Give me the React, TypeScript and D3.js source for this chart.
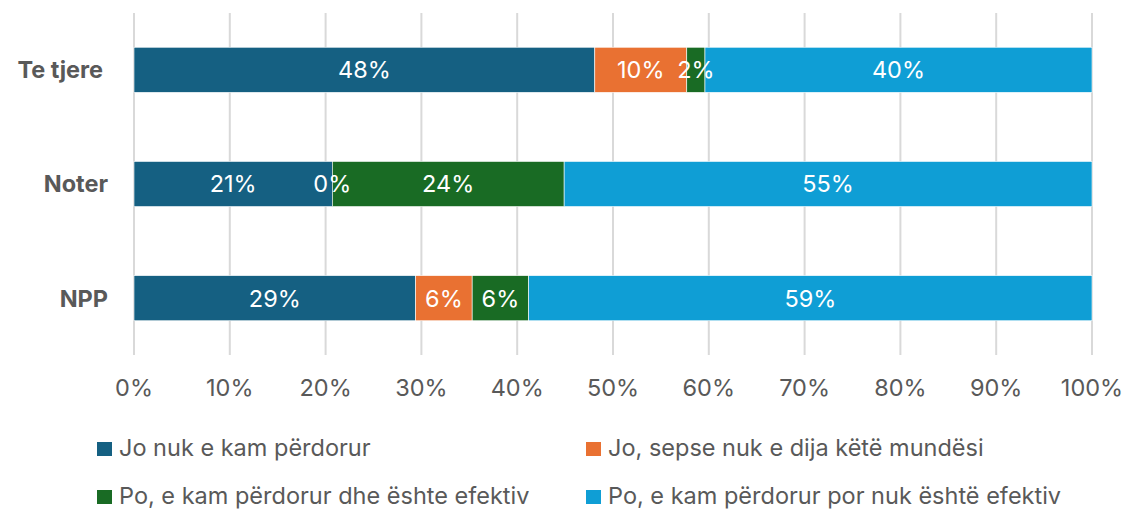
import React from "react";
import * as d3 from "d3";

const categories = ["Te tjere", "Noter", "NPP"];
const seriesNames = [
  "Jo nuk e kam përdorur",
  "Jo, sepse nuk e dija këtë mundësi",
  "Po, e kam përdorur dhe ështe efektiv",
  "Po, e kam përdorur por nuk është efektiv",
];
const seriesColors = ["#156082", "#E97132", "#196B24", "#0F9ED5"];
const joNuk = [48.1, 20.7, 29.4];
const joSepse = [9.6, 0, 5.9];
const poEfektiv = [1.9, 24.2, 5.9];
const poJoEfektiv = [40.4, 55.1, 58.8];
const xTicks = [0, 10, 20, 30, 40, 50, 60, 70, 80, 90, 100];

const W = 1126;
const H = 509;
const FONT = "Inter, 'Open Sans', sans-serif";
const FS = 23.5;

export default function App() {
  const series = [joNuk, joSepse, poEfektiv, poJoEfektiv];
  const x = d3.scaleLinear().domain([0, 100]).range([134, 1092]);
  const y = d3.scaleBand().domain(categories).range([13, 355]).paddingInner(0.605).paddingOuter(0.3);
  const stackData = categories.map((c, i) => {
    const o: any = { cat: c };
    seriesNames.forEach((s, j) => (o[s] = series[j][i]));
    return o;
  });
  const stacked = d3.stack<any>().keys(seriesNames)(stackData);

  return (
    <svg width={W} height={H} style={{ position: "absolute", left: 0, top: 0, background: "#fff" }}>
      {xTicks.map((t) => (
        <g key={t}>
          <line x1={x(t)} x2={x(t)} y1={13} y2={355} stroke="#D9D9D9" strokeWidth={2} />
          <text x={x(t)} y={388} dy="0.36em" textAnchor="middle" fontFamily={FONT} fontSize={FS} fill="#595959">
            {t}%
          </text>
        </g>
      ))}
      {stacked.map((layer, j) => (
        <g key={j}>
          {layer.map((d, i) => {
            const cat = categories[i];
            const x0 = x(d[0]);
            const x1 = x(d[1]);
            const yy = y(cat)!;
            return (
              <rect key={i} x={x0} y={yy} width={Math.max(0, x1 - x0)} height={y.bandwidth()} fill={seriesColors[j]} stroke="#fff" strokeWidth={0.6} />
            );
          })}
        </g>
      ))}
      {stacked.map((layer, j) => (
        <g key={"l" + j}>
          {layer.map((d, i) => {
            const cat = categories[i];
            const cx = (x(d[0]) + x(d[1])) / 2;
            const yy = y(cat)! + y.bandwidth() / 2;
            return (
              <text key={i} x={cx} y={yy} dy="0.36em" textAnchor="middle" fontFamily={FONT} fontSize={FS} fill="#fff">
                {Math.round(d[1] - d[0])}%
              </text>
            );
          })}
        </g>
      ))}
      {categories.map((c, i) => (
        <text key={c} x={i === 0 ? 103 : 108} y={y(c)! + y.bandwidth() / 2} dy="0.36em" textAnchor="end" fontFamily={FONT} fontSize={FS} fontWeight="bold" fill="#595959">
          {c}
        </text>
      ))}
      {seriesNames.map((s, j) => {
        const lx = j % 2 === 0 ? 97 : 586;
        const ly = j < 2 ? 448 : 496;
        return (
          <g key={s}>
            <rect x={lx} y={ly - 6} width={15} height={14} fill={seriesColors[j]} />
            <text x={lx + 22} y={ly} dy="0.36em" fontFamily={FONT} fontSize={FS} fill="#595959">
              {s}
            </text>
          </g>
        );
      })}
    </svg>
  );
}
